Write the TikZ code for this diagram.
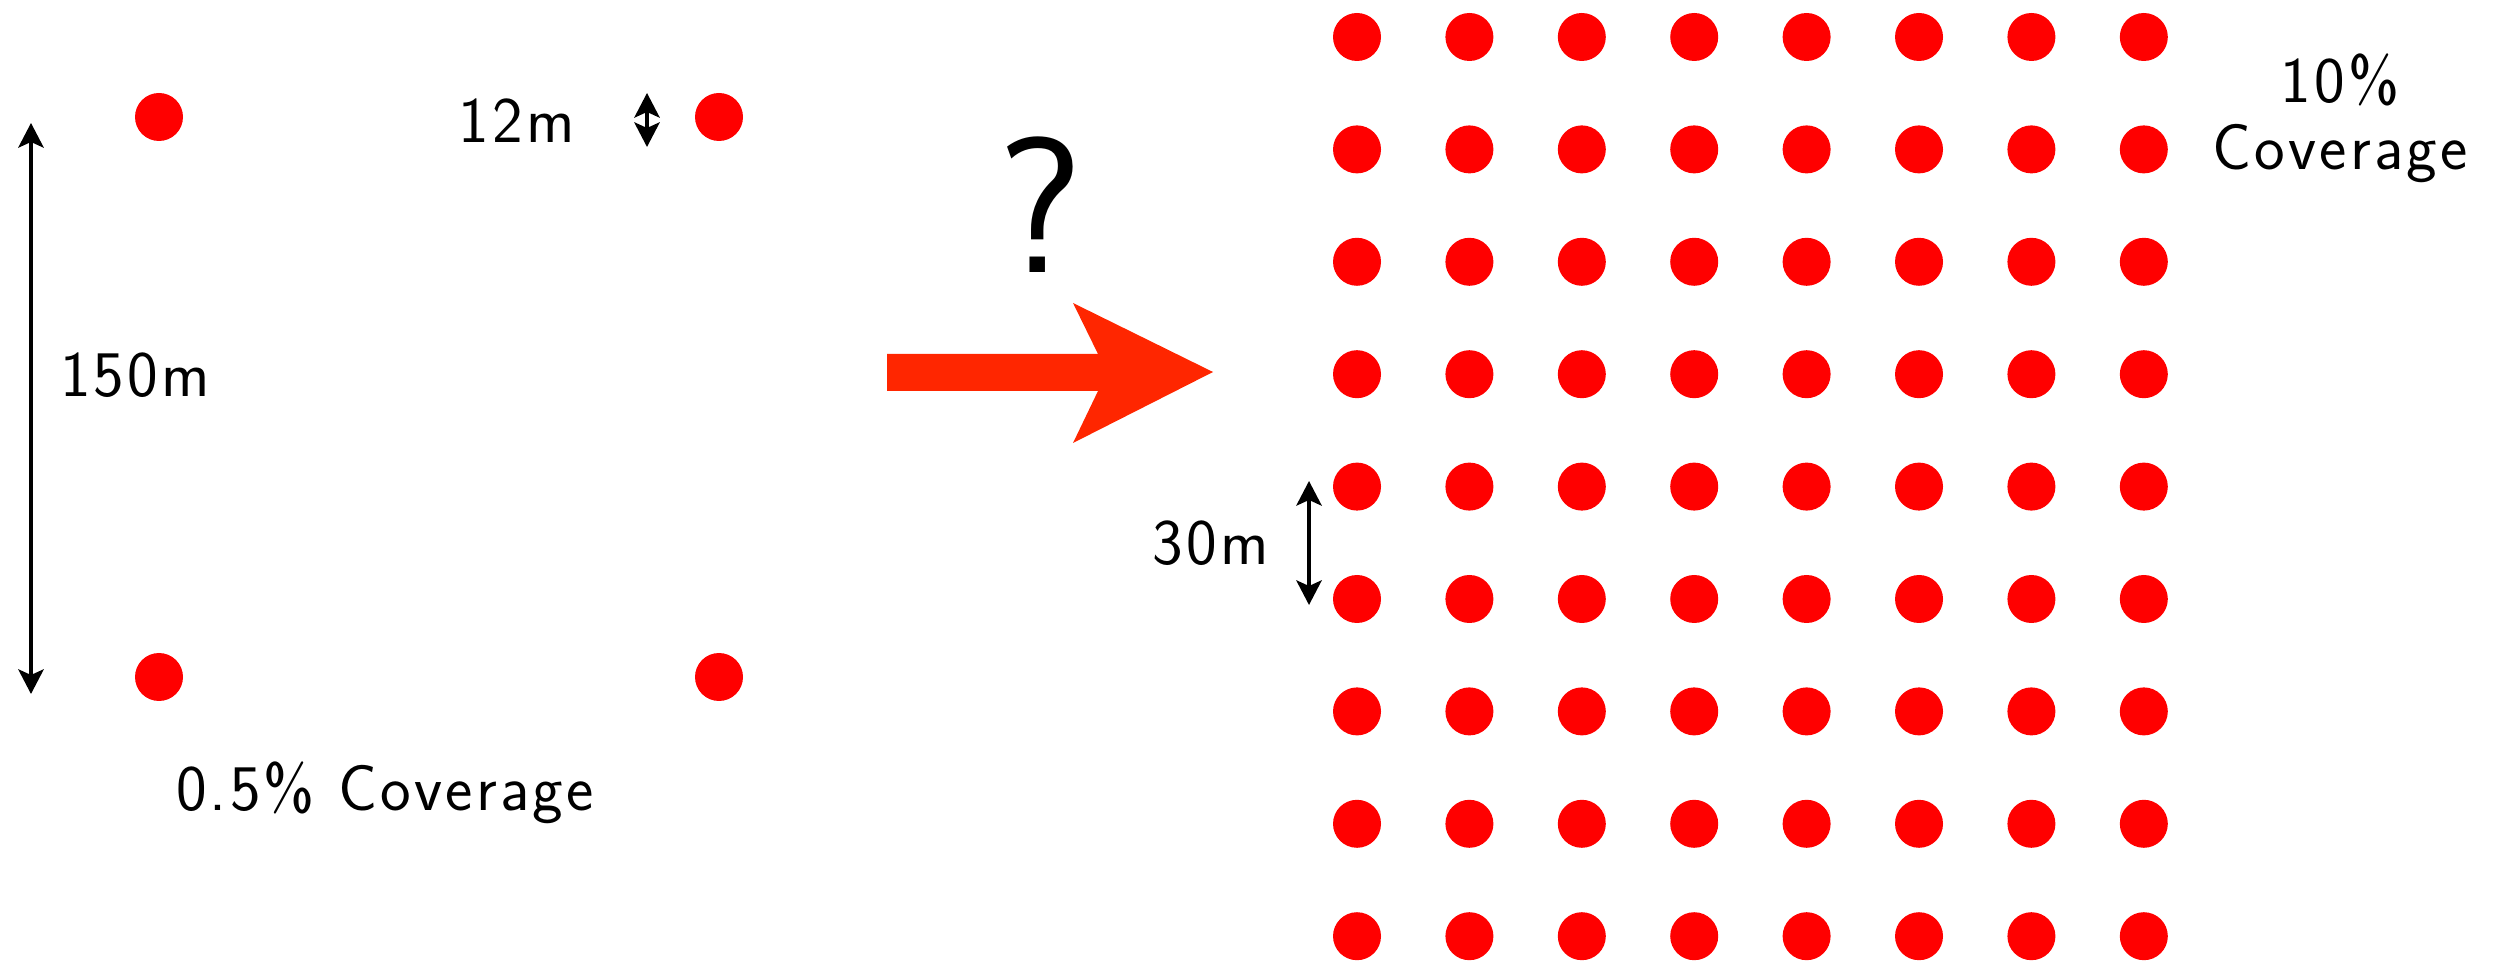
\documentclass[tikz,border=0pt]{standalone}
\usepackage{fontspec}
\usepackage{tikz}
\usetikzlibrary{arrows.meta, positioning}
\definecolor{dotred}{RGB}{255,0,0}
\definecolor{arrowred}{RGB}{255,38,0}
\newfontfamily\lblfont[LetterSpace=5]{Latin Modern Sans}

\begin{document}
\begin{tikzpicture}[x=0.1mm, y=-0.1mm, >={Stealth[length=7pt, width=7.2pt, inset=1.6pt]},
    dot/.style={circle, fill=dotred, minimum size=4.8mm, inner sep=0pt},
    lbl/.style={font=\lblfont\fontsize{18.5}{19}\selectfont, inner sep=0pt, anchor=base},
    dim/.style={<->, line width=1.1pt}]
    \useasboundingbox (0,0) rectangle (2495,964);

    % Bo tri thua: 4 diem
    \node[dot] (s-nw) at (159,117) {};
    \node[dot] (s-ne) at (719,117) {};
    \node[dot] (s-sw) at (159,677) {};
    \node[dot] (s-se) at (719,677) {};

    % Kich thuoc o ben trai
    \coordinate (span-top) at (31,123);
    \coordinate (span-bot) at (31,694);
    \draw[dim] (span-top) -- (span-bot);
    \node[lbl] (span-lbl) at (135,397) {150m};

    \coordinate (dia-top) at (647,93);
    \coordinate (dia-bot) at (647,147);
    \draw[dim] (dia-top) -- (dia-bot);
    \node[lbl] (dia-lbl) at (517,143) {12m};

    \node[lbl] (low-cov) at (385,810) {0.5\% Coverage};

    % Mui ten do va dau hoi
    \fill[arrowred] (887,354) -- (1098,354) -- (1073,303) -- (1213,372)
        -- (1073,443) -- (1098,391) -- (887,391) -- cycle;
    \node[font=\lblfont\fontsize{55}{60}\selectfont, inner sep=0pt] (ask) at (1040,205) {?};

    % Luoi day: 8 cot x 9 hang
    \foreach \i in {0,...,7}
        \foreach \j in {0,...,8}
            \node[dot] (g-\i-\j) at (1357+112.4*\i, 37+112.4*\j) {};

    \coordinate (gap-top) at (1309,481);
    \coordinate (gap-bot) at (1309,605);
    \draw[dim] (gap-top) -- (gap-bot);
    \node[lbl] (gap-lbl) at (1211,565) {30m};

    \node[lbl] (hi-pct) at (2340,103) {10\%};
    \node[lbl] (hi-cov) at (2340,170) {Coverage};
\end{tikzpicture}
\end{document}
